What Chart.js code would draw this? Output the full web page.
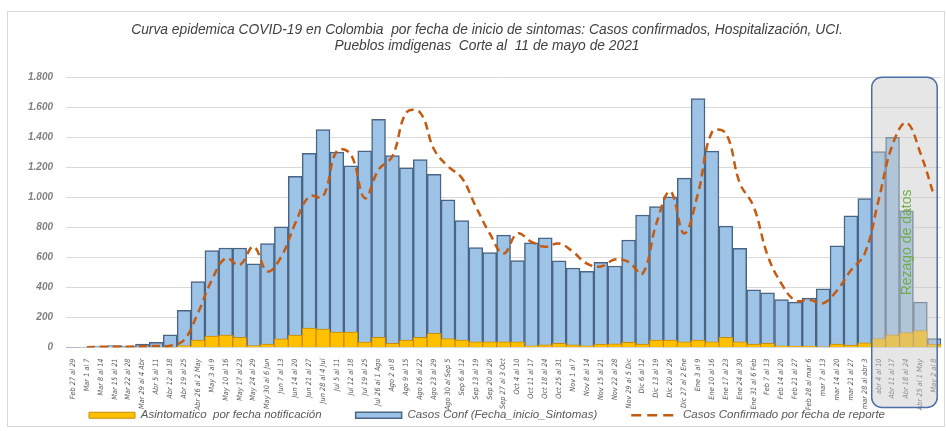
<!DOCTYPE html>
<html>
<head>
<meta charset="utf-8">
<script src="https://cdn.jsdelivr.net/npm/chart.js@4.4.1/dist/chart.umd.min.js"></script>
<style>
  html, body { margin: 0; padding: 0; background: #fff; }
  #wrap { position: relative; width: 946px; height: 431px; }
  #frame { position: absolute; left: 7px; top: 11px; width: 936px; height: 414px; border: 1px solid #d9d9d9; }
  #chart { position: absolute; left: 0; top: 0; }
</style>
</head>
<body>
<div id="wrap">
  <div id="frame"></div>
  <canvas id="chart" width="946" height="431"></canvas>
</div>
<script>
'use strict';

// semanas epidemiologicas (fecha de inicio de sintomas)
const semanas = [
  'Feb 27 al 29', 'Mar 1 al 7', 'Mar 8 al 14', 'Mar 15 al 21', 'Mar 22 al 28', 'Mar 29 al 4 Abr',
  'Abr 5 al 11', 'Abr 12 al 18', 'Abr 19 al 25', 'Abr 26 al 2 May', 'May 3 al 9', 'May 10 al 16',
  'May 17 al 23', 'May 24 al 29', 'May 30 al 6 Jun', 'Jun 7 al 13', 'Jun 14 al 20', 'Jun 21 al 27',
  'Jun 28 al 4 Jul', 'Jul 5 al 11', 'Jul 12 al 18', 'Jul 19 al 25', 'Jul 26 al 1 Ago', 'Ago 2 al 8',
  'Ago 9 al 15', 'Ago 16 al 22', 'Ago 23 al 29', 'Ago 30 al Sep 5', 'Sep 6 al 12', 'Sep 13 al 19',
  'Sep 20 al 26', 'Sep 27 al 3 Oct', 'Oct 4 al 10', 'Oct 11 al 17', 'Oct 18 al 24', 'Oct 25 al 31',
  'Nov 1 al 7', 'Nov 8 al 14', 'Nov 15 al 21', 'Nov 22 al 28', 'Nov 29 al 5 Dic', 'Dic 6 al 12',
  'Dic 13 al 19', 'Dic 20 al 26', 'Dic 27 al 2 Ene', 'Ene 3 al 9', 'Ene 10 al 16', 'Ene 17 al 23',
  'Ene 24 al 30', 'Ene 31 al 6 Feb', 'Feb 7 al 13', 'Feb 14 al 20', 'Feb 21 al 27', 'Feb 28 al mar 6',
  'mar 7 al 13', 'mar 14 al 20', 'mar 21 al 27', 'mar 28 al abr 3', 'abr 4 al 10', 'Abr 11 al 17',
  'Abr 18 al 24', 'Abr 25 al 1 May', 'May 2 al 8'
];

const asintomaticos = [
  0, 0, 0, 0, 0, 0, 0, 3, 13, 50, 76, 83,
  67, 13, 22, 58, 83, 130, 122, 103, 103, 36, 67, 27,
  49, 67, 94, 60, 49, 38, 38, 38, 38, 11, 18, 27,
  18, 11, 22, 25, 34, 22, 49, 49, 38, 49, 38, 67,
  38, 22, 27, 11, 9, 9, 4, 22, 16, 31, 60, 85,
  100, 112, 22
];

const casosConf = [
  1, 3, 10, 13, 10, 22, 34, 85, 248, 440, 645, 663,
  663, 557, 692, 804, 1141, 1293, 1452, 1302, 1210, 1310, 1520, 1279,
  1198, 1252, 1154, 984, 845, 666, 633, 749, 579, 698, 731, 577,
  530, 508, 568, 543, 716, 883, 939, 1004, 1129, 1659, 1308, 809,
  660, 385, 364, 320, 302, 329, 391, 677, 877, 993, 1306, 1400,
  910, 302, 60
];

const casosReporte = [
  null, 2, 5, 5, 5, 8, 10, 12, 50, 230, 450, 595,
  550, 672, 507, 606, 826, 1006, 1006, 1310, 1288, 995, 1185, 1275,
  1565, 1565, 1319, 1207, 1129, 939, 760, 626, 760, 704, 671, 693,
  637, 559, 540, 586, 570, 492, 827, 1040, 760, 1029, 1435, 1427,
  1096, 939, 615, 425, 313, 318, 295, 380, 514, 626, 984, 1353,
  1498, 1297, 1006
];

const rezagoDesde = 'abr 4 al 10';
const rezagoHasta = 'May 2 al 8';
const rezagoTexto = 'Rezago de datos';

const fmtMiles = v => String(v).replace(/\B(?=(\d{3})+(?!\d))/g, '.');
const dashReporte = [8, 5];

// caja gris sobre las ultimas semanas (se dibuja antes de la linea)
const rezagoPlugin = {
  id: 'rezago',
  beforeDatasetDraw(chart, args) {
    if (args.index !== 2) return;
    const { ctx, scales: { x, y } } = chart;
    const i0 = semanas.indexOf(rezagoDesde), i1 = semanas.indexOf(rezagoHasta);
    const half = (x.getPixelForValue(1) - x.getPixelForValue(0)) / 2;
    const left = x.getPixelForValue(i0) - half;
    const right = x.getPixelForValue(i1) + half - 4;
    const top = y.getPixelForValue(y.max);
    const bottom = chart.chartArea.bottom + 60;
    ctx.save();
    ctx.beginPath();
    ctx.roundRect(left, top, right - left, bottom - top, 10);
    ctx.fillStyle = 'rgba(200,200,200,0.45)';
    ctx.fill();
    ctx.lineWidth = 1.5;
    ctx.strokeStyle = '#4a6ea8';
    ctx.stroke();
    ctx.restore();
  },
  afterDatasetsDraw(chart) {
    const { ctx, scales: { x, y } } = chart;
    const i0 = semanas.indexOf(rezagoDesde);
    ctx.save();
    ctx.translate(x.getPixelForValue(i0 + 2) + 1, y.getPixelForValue(700));
    ctx.rotate(-Math.PI / 2);
    ctx.font = '14px "Liberation Sans", sans-serif';
    ctx.fillStyle = '#70ad47';
    ctx.textAlign = 'center';
    ctx.textBaseline = 'middle';
    ctx.fillText(rezagoTexto, 0, 0);
    ctx.restore();
  }
};

const ctx = document.getElementById('chart').getContext('2d');
const chart = new Chart(ctx, {
  type: 'bar',
  data: {
    labels: semanas,
    datasets: [
      { label: 'Asintomatico  por fecha notificación', data: asintomaticos, backgroundColor: '#ffc000', borderColor: '#c98a0a', borderWidth: 1, grouped: false, order: 1, barPercentage: 1, categoryPercentage: 1 },
      { label: 'Casos Conf (Fecha_inicio_Sintomas)', data: casosConf, backgroundColor: '#9dc3e6', borderColor: '#4a6584', borderWidth: 1.5, grouped: false, order: 2, barPercentage: 1, categoryPercentage: 1 },
      { type: 'line', label: 'Casos Confirmado por fecha de reporte', data: casosReporte, borderColor: '#c55a11', backgroundColor: '#c55a11', borderWidth: 2.5, borderDash: dashReporte, pointRadius: 0, tension: 0.4, fill: false, order: 0 },
    ],
  },
  options: {
    responsive: false,
    animation: false,
    layout: { padding: { left: 28, right: 0, top: 0, bottom: 0 } },
    plugins: {
      title: {
        display: true,
        text: ['Curva epidemica COVID-19 en Colombia  por fecha de inicio de sintomas: Casos confirmados, Hospitalización, UCI.', 'Pueblos imdigenas  Corte al  11 de mayo de 2021'],
        color: '#404040',
        font: { family: '"Liberation Sans", sans-serif', size: 13.8, style: 'italic', weight: 'normal', lineHeight: 1.1 },
        padding: { top: 23, bottom: 24 },
      },
      legend: {
        display: true,
        position: 'bottom',
        labels: {
          color: '#595959',
          font: { family: '"Liberation Sans", sans-serif', size: 11.5, style: 'italic' },
          usePointStyle: true,
          pointStyleWidth: 46,
          boxHeight: 6,
          padding: 34,
          sort: (a, b) => a.datasetIndex - b.datasetIndex,
          generateLabels: c => {
            const items = Chart.defaults.plugins.legend.labels.generateLabels(c);
            items.forEach(it => {
              if (it.datasetIndex === 2) {
                it.pointStyle = 'line';
                it.lineDash = [10, 6];
                it.lineWidth = 2.5;
                it.strokeStyle = '#c55a11';
              } else {
                it.pointStyle = 'rect';
              }
            });
            return items;
          },
        },
      },
      tooltip: { enabled: false },
    },
    scales: {
      x: {
        grid: { display: false },
        border: { display: false },
        ticks: {
          autoSkip: false, maxRotation: 90, minRotation: 90, padding: 3,
          color: '#595959',
          font: { family: '"DejaVu Sans Condensed", "Liberation Sans", sans-serif', size: 7.3, style: 'italic' },
        },
        afterFit: s => {
          s.height = 28;
          s._computeLabelArea = () => null; // labels run below into the legend band
        },
      },
      y: {
        min: 0, max: 1800,
        grid: { color: '#d9d9d9', lineWidth: 1, drawTicks: false },
        border: { display: false },
        ticks: {
          stepSize: 200, padding: 13,
          color: '#7f7f7f',
          font: { family: '"Liberation Sans", sans-serif', size: 10, style: 'italic', weight: 'bold' },
          callback: v => fmtMiles(v),
        },
        afterFit: s => { s.width = 38; },
      },
    },
  },
  plugins: [rezagoPlugin],
});
</script>
</body>
</html>
